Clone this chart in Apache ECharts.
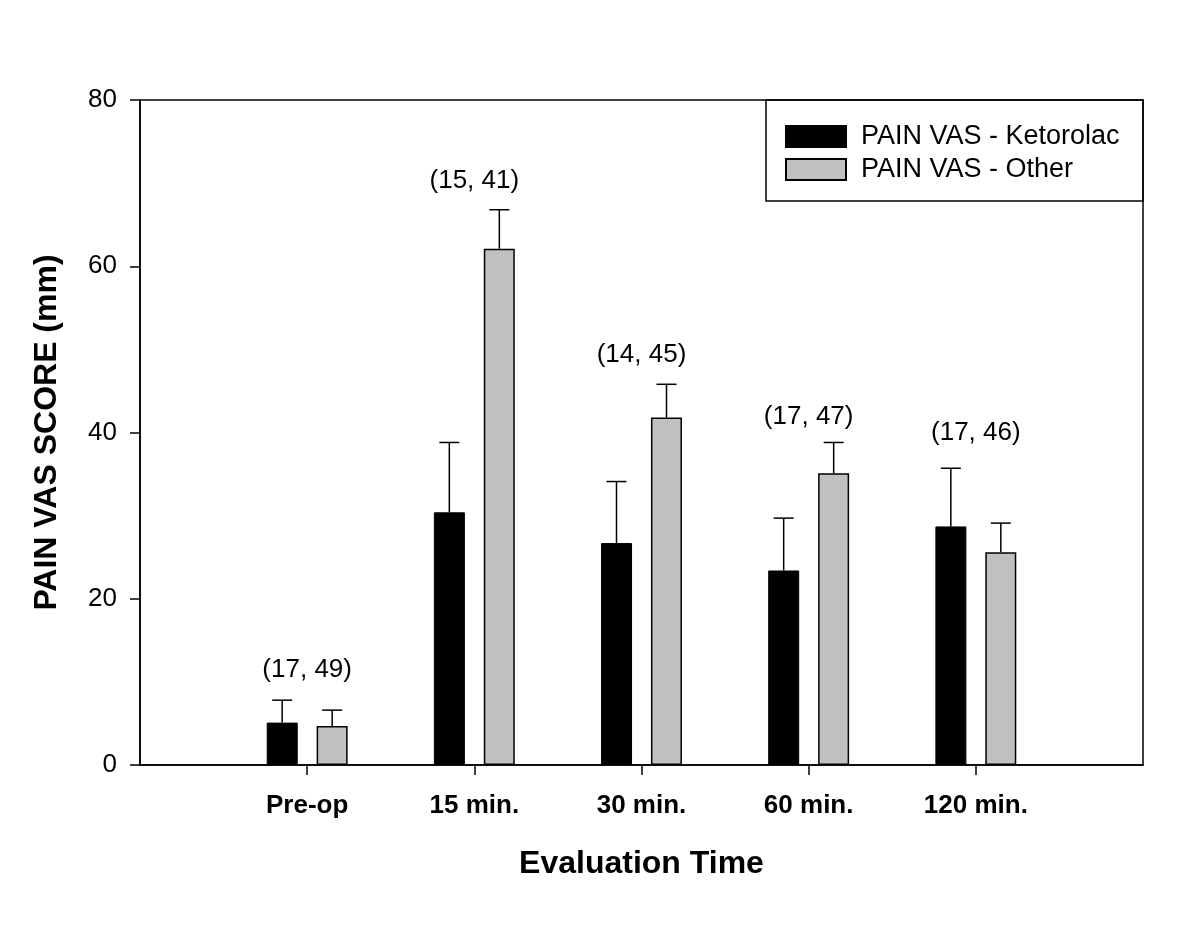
<!DOCTYPE html>
<html>
<head>
<meta charset="utf-8">
<script src="https://cdn.jsdelivr.net/npm/echarts@6/dist/echarts.min.js"></script>
<style>html,body{margin:0;padding:0;background:#fff}#c{width:1196px;height:925px}</style>
</head>
<body>
<div id="c"></div>
<script>
var categories = ['', 'Pre-op', '15 min.', '30 min.', '60 min.', '120 min.', ''];
var seriesNames = ['PAIN VAS - Ketorolac', 'PAIN VAS - Other'];
var ketorolac = [null, 5.1, 30.4, 26.7, 23.4, 28.7, null];
var ketorolacUpper = [null, 7.8, 38.8, 34.1, 29.7, 35.7, null];
var other = [null, 4.7, 62.1, 41.8, 35.1, 25.6, null];
var otherUpper = [null, 6.6, 66.8, 45.8, 38.8, 29.1, null];
var annotations = [null, '(17, 49)', '(15, 41)', '(14, 45)', '(17, 47)', '(17, 46)', null];
var annotationY = [null, 11.4, 70.3, 49.3, 41.9, 40.0, null];
var yTicks = [0, 20, 40, 60, 80];

var FONT = 'Liberation Sans, Arial, sans-serif';

function errData(vals, ups) {
  var d = [];
  for (var i = 0; i < vals.length; i++) {
    if (vals[i] != null) d.push([i, vals[i], ups[i]]);
  }
  return d;
}
function makeErr(offset) {
  return function (params, api) {
    var base = api.coord([api.value(0), api.value(1)]);
    var top = api.coord([api.value(0), api.value(2)]);
    var x = base[0] + offset;
    var style = { stroke: '#000', lineWidth: 1.5 };
    return {
      type: 'group',
      children: [
        { type: 'line', shape: { x1: x, y1: base[1], x2: x, y2: top[1] }, style: style },
        { type: 'line', shape: { x1: x - 10, y1: top[1], x2: x + 10, y2: top[1] }, style: style }
      ]
    };
  };
}
var annData = [];
for (var i = 0; i < annotations.length; i++) {
  if (annotations[i]) annData.push([i, annotationY[i], annotations[i]]);
}

var chart = echarts.init(document.getElementById('c'));
chart.setOption({
  animation: false,
  backgroundColor: '#fff',
  grid: { left: 140, right: 53, top: 100, bottom: 160, show: true, borderColor: '#000', borderWidth: 1.5, backgroundColor: 'transparent' },
  legend: {
    left: 785, top: 123, orient: 'vertical', itemWidth: 60, itemHeight: 21, itemGap: 6, padding: 0,
    icon: 'rect',
    data: seriesNames,
    textStyle: { fontFamily: FONT, fontSize: 27, lineHeight: 21, color: '#000', padding: [0, 0, 0, 10] }
  },
  graphic: [
    { type: 'rect', shape: { x: 766, y: 100, width: 377, height: 101 }, style: { fill: 'none', stroke: '#000', lineWidth: 1.5 }, z: 10 }
  ],
  xAxis: {
    type: 'category', data: categories, boundaryGap: false,
    name: 'Evaluation Time', nameLocation: 'middle', nameGap: 83,
    nameTextStyle: { fontFamily: FONT, fontSize: 32, fontWeight: 'bold', color: '#000' },
    axisLine: { lineStyle: { color: '#000', width: 1.5 } },
    axisTick: { length: 10, inside: false, lineStyle: { color: '#000', width: 1.5 }, interval: function (idx, val) { return val !== ''; } },
    axisLabel: { fontFamily: FONT, fontSize: 26, fontWeight: 'bold', color: '#000', margin: 28, interval: 0 },
    splitLine: { show: false }
  },
  yAxis: {
    type: 'value', min: 0, max: 80, interval: 20,
    name: 'PAIN VAS SCORE (mm)', nameLocation: 'middle', nameGap: 77, nameRotate: 90,
    nameTextStyle: { fontFamily: FONT, fontSize: 32, fontWeight: 'bold', color: '#000' },
    axisLine: { show: true, lineStyle: { color: '#000', width: 1.5 } },
    axisTick: { show: true, length: 10, lineStyle: { color: '#000', width: 1.5 } },
    axisLabel: { fontFamily: FONT, fontSize: 26, color: '#000', margin: 23, customValues: yTicks },
    splitLine: { show: false }
  },
  series: [
    {
      name: seriesNames[0], type: 'bar', data: ketorolac, barWidth: 31, barGap: '61%',
      itemStyle: { color: '#000', borderColor: '#000', borderWidth: 1 }
    },
    {
      name: seriesNames[1], type: 'bar', data: other, barWidth: 31, barGap: '61%',
      itemStyle: { color: '#c0c0c0', borderColor: '#000', borderWidth: 1.5 }
    },
    { type: 'custom', renderItem: makeErr(-25), data: errData(ketorolac, ketorolacUpper), z: 1, silent: true },
    { type: 'custom', renderItem: makeErr(25), data: errData(other, otherUpper), z: 1, silent: true },
    {
      type: 'custom', silent: true, data: annData, z: 5,
      renderItem: function (params, api) {
        var p = api.coord([api.value(0), api.value(1)]);
        return { type: 'text', x: p[0], y: p[1], style: { text: annotations[api.value(0)], fontFamily: FONT, fontSize: 26, fill: '#000', align: 'center', verticalAlign: 'middle' } };
      }
    }
  ]
});
</script>
</body>
</html>
